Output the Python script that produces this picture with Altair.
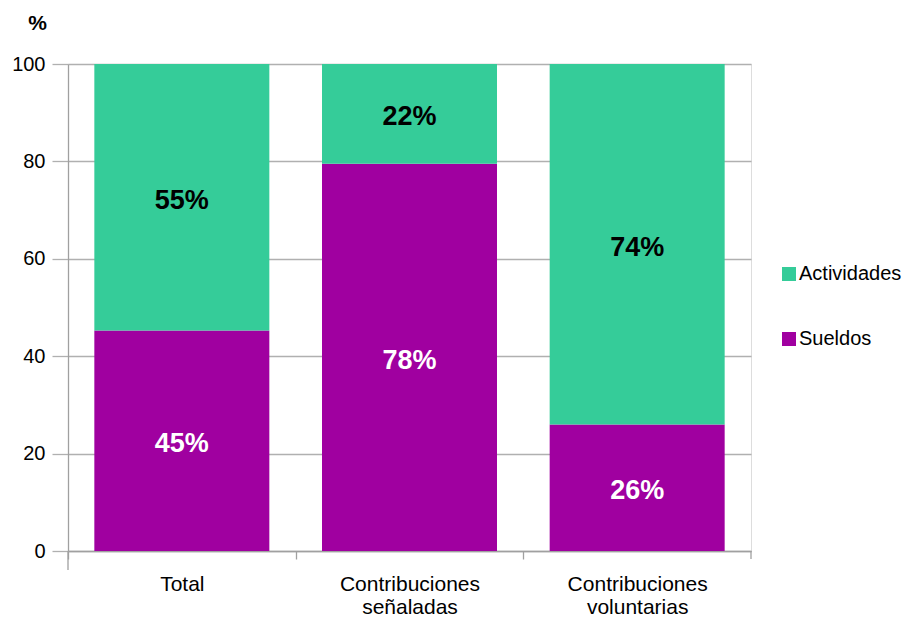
import altair as alt
import pandas as pd

categories = ["Total", "Contribuciones señaladas", "Contribuciones voluntarias"]
series = ["Sueldos", "Actividades"]
sueldos = [45.3, 79.5, 26]
actividades = [54.7, 20.5, 74]
sueldos_labels = ["45%", "78%", "26%"]
actividades_labels = ["55%", "22%", "74%"]
y_ticks = [0, 20, 40, 60, 80, 100]

rows = []
for i, c in enumerate(categories):
    rows.append({"cat": c, "serie": "Sueldos", "ord": 0, "value": sueldos[i], "lab": sueldos_labels[i]})
    rows.append({"cat": c, "serie": "Actividades", "ord": 1, "value": actividades[i], "lab": actividades_labels[i]})
df = pd.DataFrame(rows)

W, H = 683, 487
STEP = W / 3
FONT = "Liberation Sans"
GREEN = "#35CC99"
PURPLE = "#A000A0"
GRID = "#B0B0B0"
AXC = "#A0A0A0"

x_enc = alt.X(
    "cat:N",
    sort=categories,
    scale=alt.Scale(paddingInner=0.2314, paddingOuter=0.1157),
    axis=alt.Axis(
        title=None,
        labelAngle=0,
        labelExpr="split(datum.label, ' ')",
        labelFont=FONT,
        labelFontSize=21,
        labelColor="#000000",
        labelLineHeight=23,
        labelPadding=14,
        labelOffset=STEP / 2,
        tickOffset=-STEP / 2,
        tickSize=8,
        tickColor=AXC,
        tickWidth=1.3,
        domainColor=AXC,
        domainWidth=1.3,
        grid=False,
    ),
)

bars = alt.Chart(df).mark_bar(size=175).encode(
    x=x_enc,
    y=alt.Y(
        "value:Q",
        stack="zero",
        scale=alt.Scale(domain=[0, 100], nice=False),
        axis=alt.Axis(
            title="%",
            titleAngle=0,
            titleFont=FONT,
            titleFontSize=21,
            titleFontWeight="bold",
            titleAlign="center",
            titleBaseline="middle",
            titleX=-31,
            titleY=-41,
            values=y_ticks,
            labelFont=FONT,
            labelFontSize=20,
            labelColor="#000000",
            labelPadding=7,
            tickSize=16,
            tickColor=GRID,
            tickWidth=1.3,
            domainColor=AXC,
            domainWidth=1.3,
            grid=True,
            gridColor=GRID,
            gridWidth=1.3,
        ),
    ),
    color=alt.Color(
        "serie:N",
        scale=alt.Scale(domain=["Actividades", "Sueldos"], range=[GREEN, PURPLE]),
        legend=alt.Legend(
            title=None,
            orient="none",
            legendX=711,
            legendY=200,
            symbolType="square",
            symbolSize=196,
            symbolStrokeWidth=0,
            symbolOpacity=1,
            labelFont=FONT,
            labelFontSize=20,
            labelColor="#000000",
            labelOffset=0,
            labelLimit=300,
            rowPadding=45,
            padding=0,
        ),
    ),
    order=alt.Order("ord:Q"),
)

labels = alt.Chart(df).transform_stack(
    stack="value", groupby=["cat"], as_=["y0", "y1"], sort=[alt.SortField("ord", order="ascending")]
).transform_calculate(
    mid="(datum.y0 + datum.y1) / 2"
).mark_text(font=FONT, fontSize=27, fontWeight="bold", dy=3.5).encode(
    x=alt.X("cat:N", sort=categories),
    y=alt.Y("mid:Q"),
    text="lab:N",
    color=alt.Color("serie:N", scale=alt.Scale(domain=["Actividades", "Sueldos"], range=["#000000", "#FFFFFF"]), legend=None),
)

ext = alt.Chart(pd.DataFrame({"a": [0]})).mark_rule(color=AXC, strokeWidth=1.3).encode(
    x=alt.value(0), y=alt.value(H), y2=alt.value(H + 19)
)
end_tick = alt.Chart(pd.DataFrame({"a": [0]})).mark_rule(color=AXC, strokeWidth=1.3).encode(
    x=alt.value(W), y=alt.value(H), y2=alt.value(H + 8)
)

chart = alt.layer(bars, labels, ext, end_tick).resolve_scale(color="independent").properties(
    width=W,
    height=H,
    autosize=alt.AutoSizeParams(type="none"),
    padding={"left": 60, "top": 56, "right": 153, "bottom": 67},
).configure_view(stroke=None).configure(background="white")

chart.save("out.html", embed_options={"renderer": "svg", "actions": False})
